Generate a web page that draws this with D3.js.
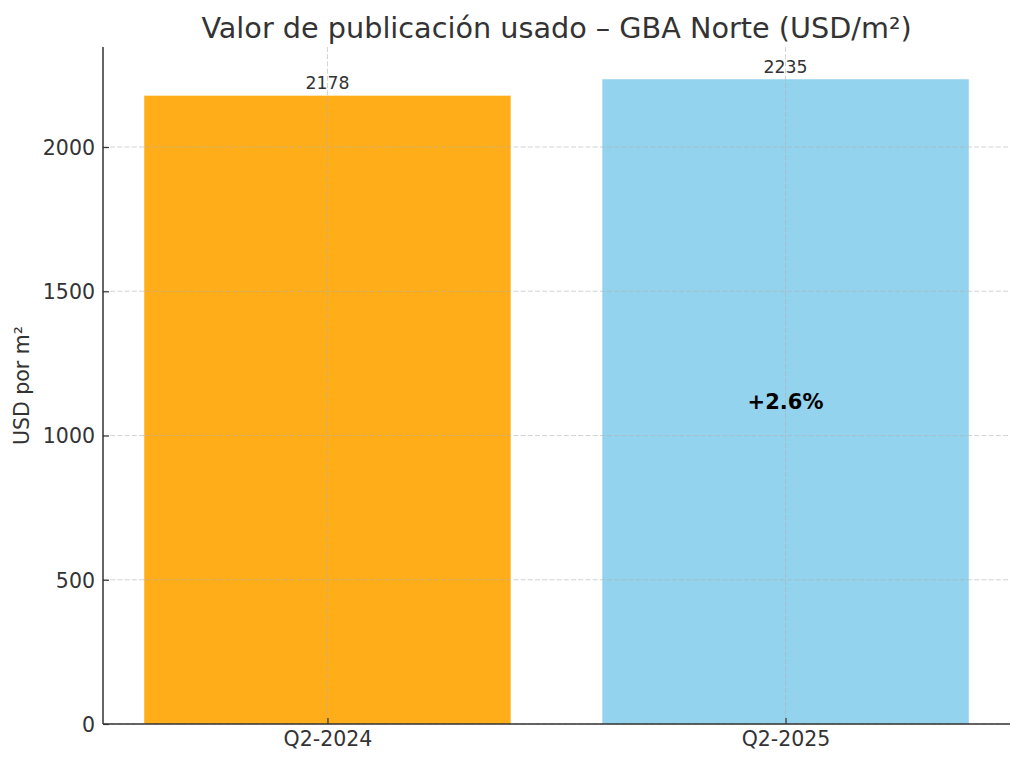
<!DOCTYPE html>
<html>
<head>
<meta charset="utf-8">
<script src="https://cdn.jsdelivr.net/npm/d3@7"></script>
<style>
  html, body { margin: 0; padding: 0; background: #fff; }
  svg { display: block; font-family: "DejaVu Sans", sans-serif; }
</style>
</head>
<body>
<svg id="chart" width="1024" height="765"></svg>
<script>
const categories = ["Q2-2024", "Q2-2025"];
const values = [2178, 2235];
const barColors = ["#FFA500", "#87CEEB"];
const yTicks = [0, 500, 1000, 1500, 2000];
const changeLabel = "+2.6%";
const titleText = "Valor de publicación usado – GBA Norte (USD/m²)";
const yLabelText = "USD por m²";

const svg = d3.select("#chart");
const L = 103, R = 1010, T = 47, B = 724;
const textColor = "#333333";

const x = d3.scaleLinear().domain([-0.49, categories.length - 1 + 0.49]).range([L, R]);
const y = d3.scaleLinear().domain([0, d3.max(values) * 1.05]).range([B, T]);
const bw = 0.8;

// bars
svg.append("g").selectAll("rect").data(values).join("rect")
  .attr("x", (d, i) => x(i - bw / 2))
  .attr("width", (d, i) => x(i + bw / 2) - x(i - bw / 2))
  .attr("y", d => y(d))
  .attr("height", d => y(0) - y(d))
  .attr("fill", (d, i) => barColors[i])
  .attr("fill-opacity", 0.9);

// grid (drawn above bars)
const grid = svg.append("g").attr("stroke", "#b0b0b0").attr("stroke-opacity", 0.7)
  .attr("stroke-width", 0.8).attr("stroke-dasharray", "5,2.2").attr("fill", "none");
grid.selectAll("line.h").data(yTicks).join("line").attr("class", "h")
  .attr("x1", L).attr("x2", R).attr("y1", d => y(d)).attr("y2", d => y(d));
grid.selectAll("line.v").data(categories).join("line").attr("class", "v")
  .attr("x1", (d, i) => x(i)).attr("x2", (d, i) => x(i)).attr("y1", T).attr("y2", B);

// y axis
const yAxis = d3.axisLeft(y).tickValues(yTicks).tickSize(-6).tickPadding(8).tickFormat(d3.format("d"));
const gy = svg.append("g").attr("transform", `translate(${L},0)`).call(yAxis);
gy.select(".domain").remove();
gy.selectAll(".tick line").attr("stroke", textColor).attr("stroke-width", 1.2);
gy.selectAll(".tick text").attr("fill", textColor).attr("font-size", "20.5px")
  .attr("font-family", "DejaVu Sans").attr("dy", "0.36em").attr("x", -8);

// x axis
const xAxis = d3.axisBottom(x).tickValues(categories.map((d, i) => i)).tickSize(-6).tickPadding(8)
  .tickFormat((d) => categories[d]);
const gx = svg.append("g").attr("transform", `translate(0,${B})`).call(xAxis);
gx.select(".domain").remove();
gx.selectAll(".tick line").attr("stroke", textColor).attr("stroke-width", 1.2);
gx.selectAll(".tick text").attr("fill", textColor).attr("font-size", "20.5px")
  .attr("font-family", "DejaVu Sans").attr("dy", null).attr("y", 22);

// spines
svg.append("line").attr("x1", L).attr("x2", L).attr("y1", T).attr("y2", B)
  .attr("stroke", textColor).attr("stroke-width", 1.5);
svg.append("line").attr("x1", L).attr("x2", R).attr("y1", B).attr("y2", B)
  .attr("stroke", textColor).attr("stroke-width", 1.5);

// value labels
svg.append("g").selectAll("text").data(values).join("text")
  .attr("x", (d, i) => x(i)).attr("y", d => y(d) - 6.5)
  .attr("text-anchor", "middle").attr("font-size", "17.3px").attr("fill", textColor)
  .text(d => d);

// change label
svg.append("text").attr("x", x(1)).attr("y", y(values[1] / 2)).attr("dy", "0.36em")
  .attr("text-anchor", "middle").attr("font-size", "21px").attr("font-weight", "bold")
  .attr("fill", "#000").text(changeLabel);

// title
svg.append("text").attr("x", (L + R) / 2).attr("y", 38).attr("text-anchor", "middle")
  .attr("font-size", "28.7px").attr("fill", textColor).text(titleText);

// y label
svg.append("text").attr("transform", `translate(29,${(T + B) / 2}) rotate(-90)`)
  .attr("text-anchor", "middle").attr("font-size", "20.5px").attr("fill", textColor)
  .text(yLabelText);
</script>
</body>
</html>
